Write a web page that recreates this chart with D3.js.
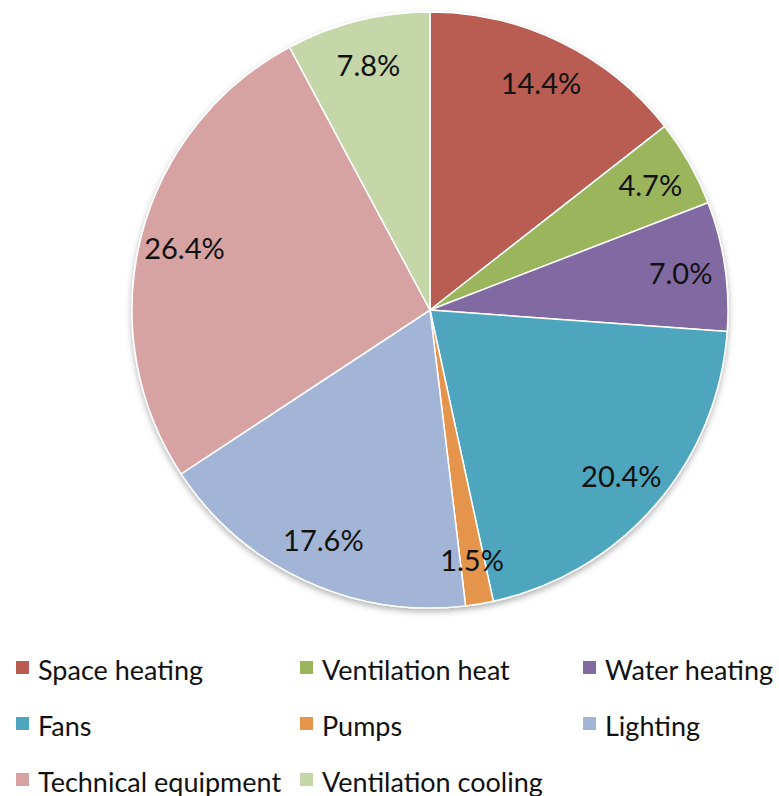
<!DOCTYPE html>
<html>
<head>
<meta charset="utf-8">
<script src="https://cdn.jsdelivr.net/npm/d3@7"></script>
<style>
  html, body { margin: 0; padding: 0; background: #fff; }
  svg { display: block; }
  text { font-family: Lato, "Open Sans", sans-serif; fill: #111; }
</style>
</head>
<body>
<svg id="chart" width="779" height="796"></svg>
<script>
// Energy use by end use, share of total (%)
const categories = ["Space heating", "Ventilation heat", "Water heating", "Fans", "Pumps", "Lighting", "Technical equipment", "Ventilation cooling"];
const shares = [14.4, 4.7, 7.0, 20.4, 1.5, 17.6, 26.4, 7.8];
const colors = ["#B95B51", "#9BB55D", "#8169A1", "#4EA6BE", "#E5954C", "#A2B5D7", "#D6A2A2", "#C5D6A8"];

const width = 779, height = 796;
const cx = 430, cy = 310, radius = 298;

const svg = d3.select("#chart");

const defs = svg.append("defs");
const shadow = defs.append("filter").attr("id", "pieShadow")
  .attr("x", "-10%").attr("y", "-10%").attr("width", "120%").attr("height", "125%");
shadow.append("feDropShadow")
  .attr("dx", 0).attr("dy", 3).attr("stdDeviation", 3)
  .attr("flood-color", "#000").attr("flood-opacity", 0.3);

const data = categories.map((c, i) => ({ name: c, value: shares[i], color: colors[i] }));

const pie = d3.pie().value(d => d.value).sort(null);
const arcs = pie(data);

const arc = d3.arc().innerRadius(0).outerRadius(radius);
const labelArc = d3.arc().innerRadius(radius * 0.85).outerRadius(radius * 0.85);

const g = svg.append("g").attr("transform", `translate(${cx},${cy})`);

g.append("g").attr("filter", "url(#pieShadow)")
  .selectAll("path")
  .data(arcs)
  .join("path")
  .attr("d", arc)
  .attr("fill", d => d.data.color)
  .attr("stroke", "#fff")
  .attr("stroke-width", 1.5)
  .attr("stroke-linejoin", "round");

g.append("g")
  .selectAll("text")
  .data(arcs)
  .join("text")
  .attr("transform", d => `translate(${labelArc.centroid(d)})`)
  .attr("text-anchor", "middle")
  .attr("dominant-baseline", "central")
  .attr("font-size", 29)
  .text(d => d3.format(".1f")(d.data.value) + "%");

// Legend: three columns
const legend = svg.append("g");
const colX = [16, 300, 583];
const rowY = [668, 724, 780];
const item = legend.selectAll("g")
  .data(data)
  .join("g")
  .attr("transform", (d, i) => `translate(${colX[i % 3]},${rowY[Math.floor(i / 3)]})`);

item.append("rect")
  .attr("x", 0).attr("y", -7)
  .attr("width", 13).attr("height", 13)
  .attr("fill", d => d.color);

item.append("text")
  .attr("x", 22).attr("y", 1)
  .attr("dominant-baseline", "central")
  .attr("font-size", 27)
  .text(d => d.name);
</script>
</body>
</html>
